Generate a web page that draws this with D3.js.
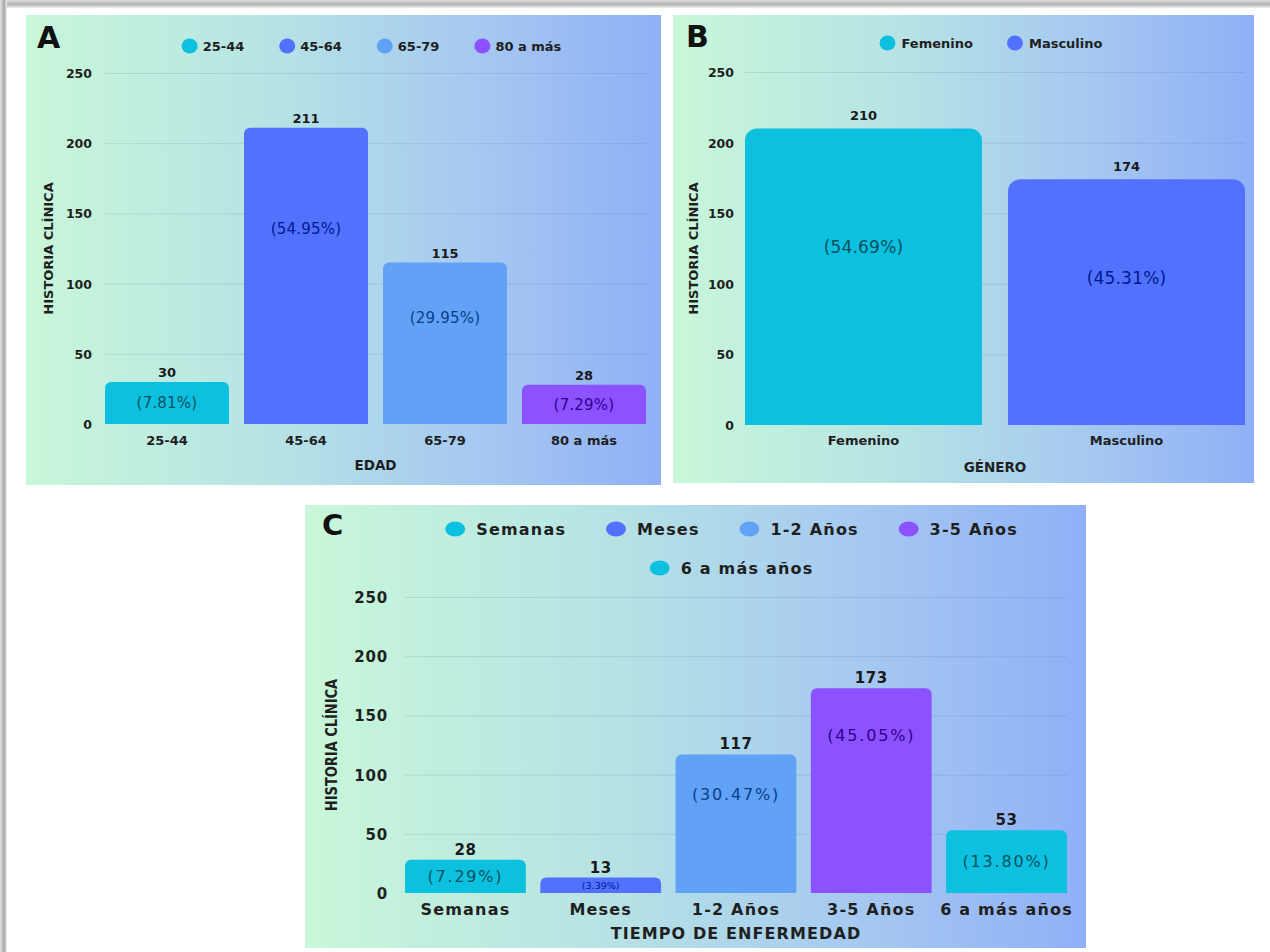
<!DOCTYPE html>
<html lang="es">
<head>
<meta charset="utf-8">
<title>Historia clínica: edad, género y tiempo de enfermedad</title>
<script src="https://cdn.jsdelivr.net/npm/d3@7"></script>
<style>
  html, body { margin: 0; padding: 0; background: #ffffff; }
  svg { display: block; font-family: "DejaVu Sans", sans-serif; }
</style>
</head>
<body>
<svg id="chart" width="1270" height="952"></svg>
<script>
// ---- Data ----
const edadCategories = ["25-44", "45-64", "65-79", "80 a más"];
const edadValues = [30, 211, 115, 28];
const edadPercents = ["(7.81%)", "(54.95%)", "(29.95%)", "(7.29%)"];

const generoCategories = ["Femenino", "Masculino"];
const generoValues = [210, 174];
const generoPercents = ["(54.69%)", "(45.31%)"];

const tiempoCategories = ["Semanas", "Meses", "1-2 Años", "3-5 Años", "6 a más años"];
const tiempoValues = [28, 13, 117, 173, 53];
const tiempoPercents = ["(7.29%)", "(3.39%)", "(30.47%)", "(45.05%)", "(13.80%)"];

const yTickValues = [0, 50, 100, 150, 200, 250];
const yAxisTitle = "HISTORIA CLÍNICA";

const edadColors = ["#0cc0df", "#5271ff", "#62a2f6", "#8c52ff"];
const generoColors = ["#0cc0df", "#5271ff"];
const tiempoColors = ["#0cc0df", "#5271ff", "#62a2f6", "#8c52ff", "#0cc0df"];

// ---- Layout of the three panels ----
const panels = [
  {
    letter: "A", cats: edadCategories, values: edadValues, pcts: edadPercents, colors: edadColors,
    xTitle: "EDAD",
    box: { x: 26, y: 15, w: 635, h: 470 },
    xRange: [97.5, 653.5], padInner: 0.108, padOuter: 0.054,
    yRange: [424, 73], radius: 6,
    letterPos: [37, 48], letterSize: 30,
    legendRows: [46], legend: { rx: 8, ry: 7.5, textGap: 13, itemGap: 27, font: 13, ls: 0 },
    tickFont: 12.5, tickLs: 0, tickX: 92,
    valueFont: 13, valueLs: 0, valueGap: 5,
    pctFont: () => 15, pctLs: 0.2,
    pctOffset: h => (h < 70 ? h / 2 : h * 0.34),
    catFont: 13, catLs: 0, catY: 445,
    titleFont: 13.5, titleLs: 0, titleY: 470,
    yTitleX: 48, yTitleScale: 1
  },
  {
    letter: "B", cats: generoCategories, values: generoValues, pcts: generoPercents, colors: generoColors,
    xTitle: "GÉNERO",
    box: { x: 673, y: 15, w: 581, h: 468 },
    xRange: [745, 1245], padInner: 0.099, padOuter: 0,
    yRange: [425, 72], radius: 12,
    letterPos: [686, 47], letterSize: 30,
    legendRows: [43], legend: { rx: 8, ry: 7.5, textGap: 14, itemGap: 26, font: 13, ls: 0 },
    tickFont: 12.5, tickLs: 0, tickX: 734,
    valueFont: 13, valueLs: 0, valueGap: 8,
    pctFont: () => 17, pctLs: 0.2,
    pctOffset: h => h * 0.4,
    catFont: 13, catLs: 0, catY: 445,
    titleFont: 13.5, titleLs: 0, titleY: 472,
    yTitleX: 693, yTitleScale: 1
  },
  {
    letter: "C", cats: tiempoCategories, values: tiempoValues, pcts: tiempoPercents, colors: tiempoColors,
    xTitle: "TIEMPO DE ENFERMEDAD",
    box: { x: 305, y: 505, w: 781, h: 443 },
    xRange: [397.75, 1074.25], padInner: 0.107, padOuter: 0.054,
    yRange: [893, 597], radius: 6,
    letterPos: [322, 535], letterSize: 29,
    legendRows: [529, 568], legend: { rx: 10, ry: 7.5, textGap: 21, itemGap: 31, font: 16, ls: 1.2, maxWidth: 662 },
    tickFont: 15, tickLs: 0.8, tickX: 388,
    valueFont: 15, valueLs: 0.6, valueGap: 5,
    pctFont: h => Math.min(16, h * 0.62), pctLs: 1.8,
    pctOffset: h => Math.min(h / 2, 25 + h * 0.11),
    catFont: 16, catLs: 1.2, catY: 915,
    titleFont: 16, titleLs: 1.1, titleY: 939,
    yTitleX: 331, yTitleScale: 1.25
  }
];

const svg = d3.select("#chart");
const defs = svg.append("defs");

// Panel background: mint green on the left fading to periwinkle blue on the right
const bg = defs.append("linearGradient").attr("id", "panelBg")
  .attr("x1", "0").attr("y1", "0").attr("x2", "1").attr("y2", "0");
[["0", "#c8f7d9"], ["0.4", "#b6e2e5"], ["0.72", "#a5c8f1"], ["1", "#8fb0f6"]]
  .forEach(([o, c]) => bg.append("stop").attr("offset", o).attr("stop-color", c));

// Grey frame along the top and left edges of the sheet
const topEdge = defs.append("linearGradient").attr("id", "topEdge")
  .attr("x1", "0").attr("y1", "0").attr("x2", "0").attr("y2", "1");
[["0", "#dcdcdc"], ["0.55", "#b4b4b4"], ["1", "#eeeeee"]]
  .forEach(([o, c]) => topEdge.append("stop").attr("offset", o).attr("stop-color", c));
const leftEdge = defs.append("linearGradient").attr("id", "leftEdge")
  .attr("x1", "0").attr("y1", "0").attr("x2", "1").attr("y2", "0");
[["0", "#e4e4e4"], ["0.6", "#a6a6a6"], ["1", "#f2f2f2"]]
  .forEach(([o, c]) => leftEdge.append("stop").attr("offset", o).attr("stop-color", c));

svg.append("rect").attr("x", 0).attr("y", 0).attr("width", 1270).attr("height", 952).attr("fill", "#ffffff");
svg.append("rect").attr("x", 0).attr("y", 0).attr("width", 1270).attr("height", 8).attr("fill", "url(#topEdge)");
svg.append("rect").attr("x", 0).attr("y", 0).attr("width", 7).attr("height", 952).attr("fill", "url(#leftEdge)");

// Bar with rounded top corners and a flat base
function roundedTopBar(x, y, w, h, r) {
  r = Math.max(0, Math.min(r, h, w / 2));
  return `M${x},${y + h}V${y + r}A${r},${r} 0 0 1 ${x + r},${y}` +
         `H${x + w - r}A${r},${r} 0 0 1 ${x + w},${y + r}V${y + h}Z`;
}

panels.forEach(p => {
  const g = svg.append("g");

  g.append("rect")
    .attr("x", p.box.x).attr("y", p.box.y)
    .attr("width", p.box.w).attr("height", p.box.h)
    .attr("fill", "url(#panelBg)");

  const x = d3.scaleBand().domain(p.cats).range(p.xRange)
    .paddingInner(p.padInner).paddingOuter(p.padOuter);
  const y = d3.scaleLinear().domain([0, 250]).range(p.yRange);

  const gridLeft = x(p.cats[0]);
  const gridRight = x(p.cats[p.cats.length - 1]) + x.bandwidth();

  // Horizontal gridlines + value ticks
  const yAxis = d3.axisLeft(y).tickValues(yTickValues).tickSize(-(gridRight - gridLeft)).tickPadding(0);
  const ax = g.append("g").attr("transform", `translate(${gridLeft},0)`).call(yAxis);
  ax.select(".domain").remove();
  ax.selectAll(".tick line")
    .attr("stroke", d => (d === 0 ? "none" : "rgba(80,100,130,0.16)"))
    .attr("stroke-width", 1);
  ax.selectAll(".tick text")
    .attr("x", p.tickX - gridLeft)
    .attr("dy", "0.36em")
    .attr("fill", "#1f1f1f")
    .style("font-family", "DejaVu Sans")
    .style("font-size", p.tickFont + "px")
    .style("font-weight", "bold")
    .style("letter-spacing", p.tickLs + "px")
    .attr("text-anchor", "end");

  const rows = p.cats.map((c, i) => ({ cat: c, value: p.values[i], pct: p.pcts[i], color: p.colors[i] }));

  // Bars
  g.selectAll("path.bar").data(rows).join("path")
    .attr("class", "bar")
    .attr("fill", d => d.color)
    .attr("d", d => roundedTopBar(x(d.cat), y(d.value), x.bandwidth(), y(0) - y(d.value), p.radius));

  // Count above each bar
  g.selectAll("text.value").data(rows).join("text")
    .attr("class", "value")
    .attr("x", d => x(d.cat) + x.bandwidth() / 2)
    .attr("y", d => y(d.value) - p.valueGap)
    .attr("text-anchor", "middle")
    .attr("fill", "#1a1a1a")
    .style("font-size", p.valueFont + "px")
    .style("font-weight", "bold")
    .style("letter-spacing", p.valueLs + "px")
    .text(d => d.value);

  // Share inside each bar, in a deep shade of the bar colour
  g.selectAll("text.pct").data(rows).join("text")
    .attr("class", "pct")
    .attr("x", d => x(d.cat) + x.bandwidth() / 2)
    .attr("y", d => y(d.value) + p.pctOffset(y(0) - y(d.value)))
    .attr("dy", "0.36em")
    .attr("text-anchor", "middle")
    .attr("fill", d => {
      const c = d3.hsl(d.color);
      c.l *= 0.42;
      return c.formatHex();
    })
    .style("font-size", d => p.pctFont(y(0) - y(d.value)) + "px")
    .style("letter-spacing", d => (p.pctFont(y(0) - y(d.value)) < 12 ? 0 : p.pctLs) + "px")
    .text(d => d.pct);

  // Category labels
  g.selectAll("text.cat").data(rows).join("text")
    .attr("class", "cat")
    .attr("x", d => x(d.cat) + x.bandwidth() / 2)
    .attr("y", p.catY)
    .attr("text-anchor", "middle")
    .attr("fill", "#1f1f1f")
    .style("font-size", p.catFont + "px")
    .style("font-weight", "bold")
    .style("letter-spacing", p.catLs + "px")
    .text(d => d.cat);

  // Axis titles
  g.append("text")
    .attr("x", (gridLeft + gridRight) / 2)
    .attr("y", p.titleY)
    .attr("text-anchor", "middle")
    .attr("fill", "#1f1f1f")
    .style("font-size", p.titleFont + "px")
    .style("font-weight", "bold")
    .style("letter-spacing", p.titleLs + "px")
    .text(p.xTitle);

  g.append("text")
    .attr("transform", `translate(${p.yTitleX},${(p.yRange[0] + p.yRange[1]) / 2}) scale(${p.yTitleScale},1) rotate(-90)`)
    .attr("text-anchor", "middle")
    .attr("dy", "0.36em")
    .attr("fill", "#1f1f1f")
    .style("font-size", "13px")
    .style("font-weight", "bold")
    .text(yAxisTitle);

  // Panel letter
  g.append("text")
    .attr("x", p.letterPos[0]).attr("y", p.letterPos[1])
    .attr("fill", "#111")
    .style("font-size", p.letterSize + "px")
    .style("font-weight", "bold")
    .text(p.letter);

  // Legend: measure items, wrap into rows, centre each row over the plot
  const L = p.legend;
  const legendG = g.append("g");
  const items = rows.map(d => {
    const t = legendG.append("text")
      .attr("fill", "#1f1f1f")
      .style("font-size", L.font + "px")
      .style("font-weight", "bold")
      .style("letter-spacing", L.ls + "px")
      .text(d.cat);
    const tw = t.node().getComputedTextLength();
    return { d, t, w: L.rx + L.textGap + tw - (L.ls || 0) };
  });
  const maxW = L.maxWidth || Infinity;
  const lines = [[]];
  let cur = 0;
  items.forEach(it => {
    const add = (lines[lines.length - 1].length ? L.itemGap : 0) + L.rx + it.w;
    if (lines[lines.length - 1].length && cur + add > maxW) {
      lines.push([]);
      cur = L.rx + it.w;
    } else {
      cur += add;
    }
    lines[lines.length - 1].push(it);
  });
  const centre = (gridLeft + gridRight) / 2;
  lines.forEach((line, li) => {
    const total = line.reduce((s, it, k) => s + L.rx + it.w + (k ? L.itemGap : 0), 0);
    let cx = centre - total / 2;
    const ly = p.legendRows[li];
    line.forEach(it => {
      const circleX = cx + L.rx;
      legendG.append("ellipse")
        .attr("cx", circleX).attr("cy", ly)
        .attr("rx", L.rx).attr("ry", L.ry)
        .attr("fill", it.d.color);
      it.t.attr("x", circleX + L.textGap).attr("y", ly).attr("dy", "0.36em");
      cx += L.rx + it.w + L.itemGap;
    });
  });
});
</script>
</body>
</html>
